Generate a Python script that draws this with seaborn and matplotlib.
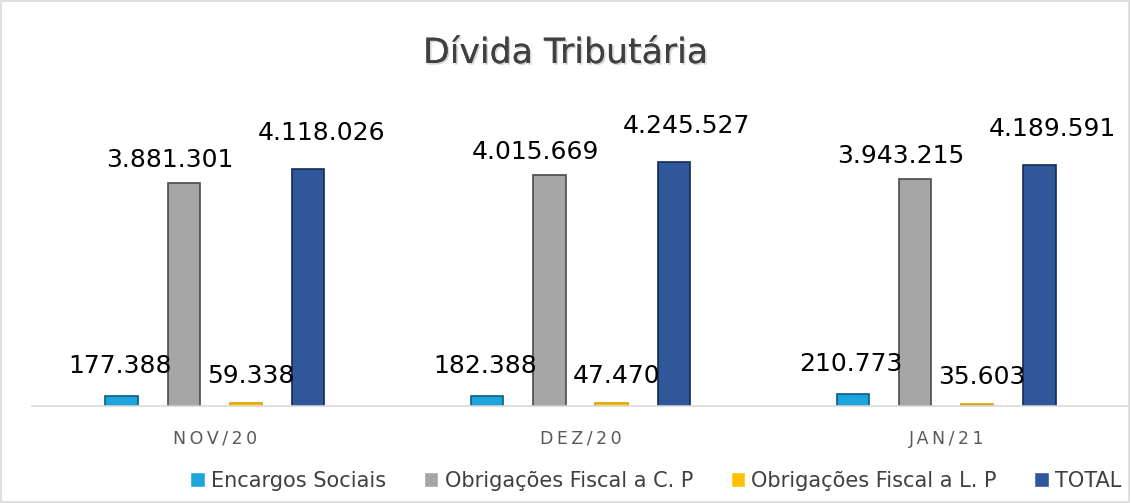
import matplotlib
matplotlib.use("Agg")
import matplotlib.pyplot as plt
import seaborn as sns
import pandas as pd
import matplotlib.patheffects as pe

meses = ["NOV/20", "DEZ/20", "JAN/21"]
series = ["Encargos Sociais", "Obrigações Fiscal a C. P", "Obrigações Fiscal a L. P", "TOTAL"]
encargos = [177388, 182388, 210773]
obrig_cp = [3881301, 4015669, 3943215]
obrig_lp = [59338, 47470, 35603]
total = [4118026, 4245527, 4189591]

colors = ["#1DA4DC", "#A6A6A6", "#FFC000", "#2F579A"]
edges = ["#0B5E80", "#4A4A4A", "#D9A000", "#142A55"]
# label offsets per series (px): (dx, dy from bar top to label centre)
label_off = [(-2, 30), (-14, 23), (5, 27), (13, 36)]

rows = []
for s, vals in zip(series, [encargos, obrig_cp, obrig_lp, total]):
    for m, v in zip(meses, vals):
        rows.append({"mes": m, "serie": s, "valor": v})
df = pd.DataFrame(rows)

sns.set_theme(style="white")
plt.rcParams["font.family"] = ["DejaVu Sans"]

fig = plt.figure(figsize=(11.31, 5.03), dpi=100)
ax = fig.add_axes([32 / 1131, (503 - 406) / 503, (1129 - 32) / 1131, (406 - 147) / 503])

sns.barplot(data=df, x="mes", y="valor", hue="serie", hue_order=series, order=meses,
            palette=colors, width=0.68, gap=0.48, ax=ax, legend=True, saturation=1)

px = 72 / 100
for cont, ec, (dx, dy) in zip(ax.containers, edges, label_off):
    for bar in cont:
        bar.set_edgecolor(ec)
        bar.set_linewidth(1.2)
        v = bar.get_height()
        ax.annotate(f"{int(v):,}".replace(",", "."),
                    (bar.get_x() + bar.get_width() / 2, v),
                    xytext=(dx * px, dy * px), textcoords="offset points",
                    ha="center", va="center", fontsize=18, color="black",
                    annotation_clip=False)

ax.set_ylim(0, 4.5e6)
ax.set_xlim(-0.5, 2.5)
ax.set_ylabel("")
ax.set_xlabel("")
ax.set_yticks([])
ax.set_xticks(range(len(meses)))
ax.set_xticklabels(["\u2009".join(m) for m in meses], fontsize=12.5, color="#595959")
ax.tick_params(axis="x", length=0, pad=17)
for sp in ["top", "left", "right"]:
    ax.spines[sp].set_visible(False)
ax.spines["bottom"].set_color("#D9D9D9")
ax.spines["bottom"].set_linewidth(1.2)

handles, labs = ax.get_legend_handles_labels()
ax.legend_.remove()
leg = fig.legend(handles, labs, loc="center", bbox_to_anchor=(0.58, (503 - 481) / 503), ncol=4,
                 frameon=False, fontsize=15, handlelength=0.7, handleheight=0.7,
                 handletextpad=0.3, columnspacing=1.8, labelcolor="#404040")

fig.text(0.5, (503 - 53) / 503, "Dívida Tributária", ha="center", va="center", fontsize=25,
         color="#404040",
         path_effects=[pe.withSimplePatchShadow(offset=(1.2, -1.2), alpha=0.18), pe.Normal()])

fig.patches.append(plt.Rectangle((0.001, 0.001), 0.997, 0.997, transform=fig.transFigure,
                                 fill=False, edgecolor="#D9D9D9", linewidth=1.2))

fig.savefig("out.png", dpi=100, facecolor="white")
